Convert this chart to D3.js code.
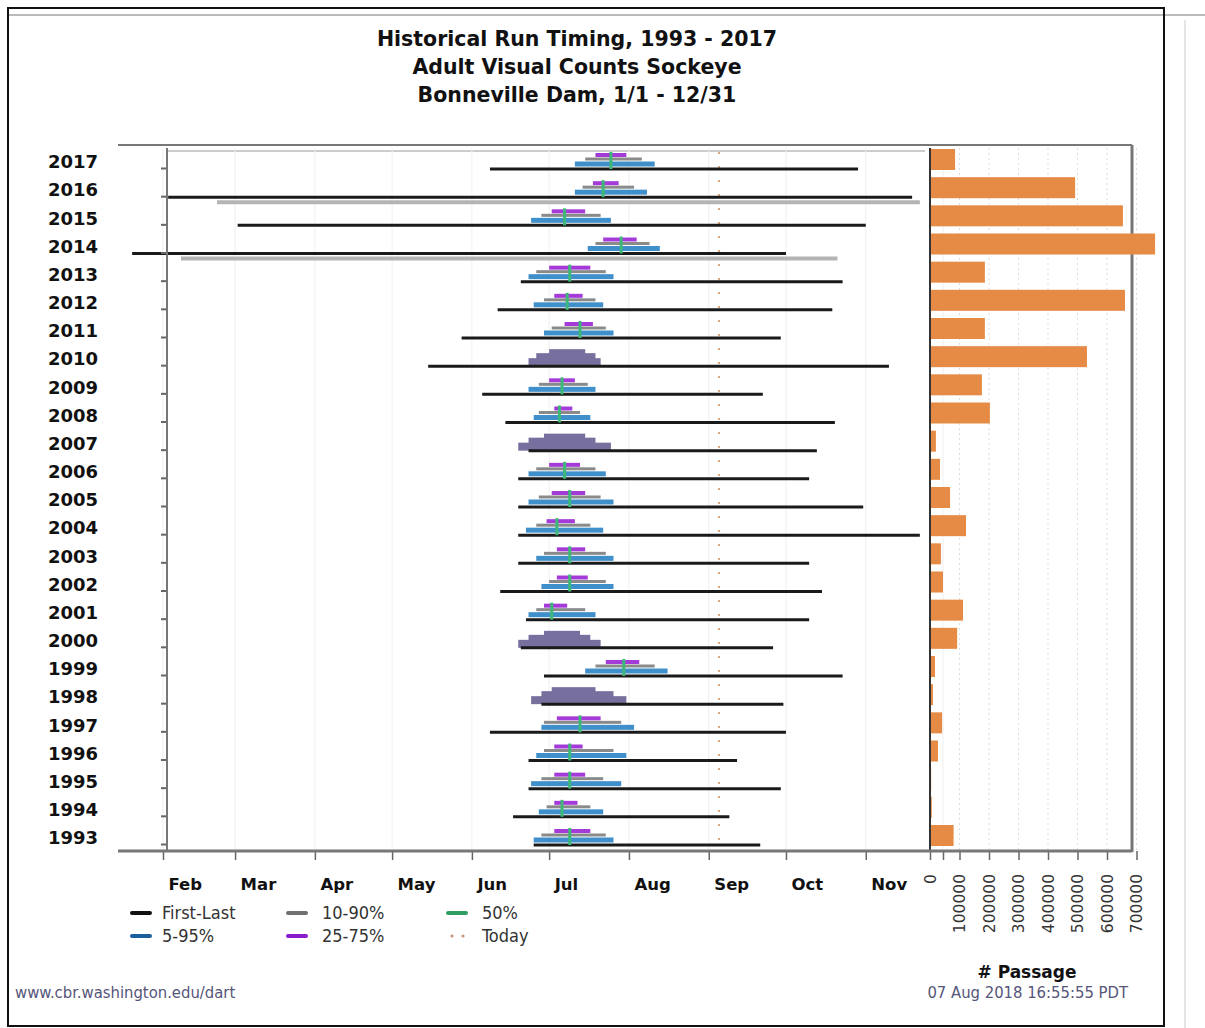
<!DOCTYPE html>
<html>
<head>
<meta charset="utf-8">
<script src="https://cdn.jsdelivr.net/npm/d3@7"></script>
<style>
  body { margin: 0; background: #fff; }
  svg { font-family: "DejaVu Sans", sans-serif; }
  .cond { font-family: "DejaVu Sans Condensed", "DejaVu Sans", sans-serif; font-stretch: condensed; }
</style>
</head>
<body>
<div id="chart"></div>
<script>
// values; days are day-of-year
const years    = [2017,2016,2015,2014,2013,2012,2011,2010,2009,2008,2007,2006,2005,2004,2003,2002,2001,2000,1999,1998,1997,1996,1995,1994,1993];
const firstDay = [159,34,61,20,171,162,148,135,156,165,174,170,170,170,170,163,173,171,180,179,159,174,174,168,176];
const p5       = [192,192,175,197,174,176,180,174,174,176,170,174,174,173,177,179,174,170,196,175,179,177,175,178,176];
const p10      = [196,195,179,200,177,180,183,177,178,178,174,177,178,177,180,182,177,174,200,179,180,180,179,181,179];
const p25      = [200,199,183,203,182,184,188,182,182,184,180,182,183,181,185,185,180,180,204,183,185,184,184,184,184];
const p50      = [206,203,188,210,190,189,194,188,187,186,188,188,190,185,190,190,183,186,211,192,194,190,190,187,190];
const p75      = [212,209,196,216,198,195,199,196,192,191,196,194,196,192,196,197,189,194,217,200,202,195,196,193,198];
const p90      = [218,215,202,221,204,200,204,200,197,194,200,200,202,198,204,204,196,198,223,207,210,207,203,198,204];
const p95      = [223,220,206,225,207,203,207,202,200,198,206,204,207,203,207,207,200,202,228,212,215,212,210,203,207];
const lastDay  = [302,323,305,274,296,292,272,314,265,293,286,283,304,326,283,288,283,269,296,273,274,255,272,252,264];
const passage  = [85000,492000,654000,763000,186000,661000,186000,532000,176000,203000,20000,34000,68000,122000,37000,44000,112000,92000,17000,10000,41000,27000,4000,6000,80000];
const todayDay = 248;

// rows drawn as merged (smeared) bars in the picture
const smearYears = [2010, 2007, 2000, 1998];
// light grey ranges seen under two rows
const shadowYears = [2016, 2014];
const shadowFrom  = [53, 39];
const shadowTo    = [326, 294];

const monthStarts = [32, 60, 91, 121, 152, 182, 213, 244, 274, 305, 335];
const monthNames  = ['Feb','Mar','Apr','May','Jun','Jul','Aug','Sep','Oct','Nov',''];
const passageTicks = [0,100000,200000,300000,400000,500000,600000,700000];

const rows = years.map((yr, i) => ({
  year: yr, first: firstDay[i], last: lastDay[i],
  p5: p5[i], p10: p10[i], p25: p25[i], p50: p50[i], p75: p75[i], p90: p90[i], p95: p95[i],
  passage: passage[i], smear: smearYears.includes(yr)
}));

const W = 1205, H = 1028;
const plotLeft = 167, plotTop = 148, plotBottom = 851;

const svg = d3.select('#chart').append('svg')
  .attr('width', W).attr('height', H);

// frames
svg.append('line').attr('x1', 8).attr('x2', 1205).attr('y1', 15).attr('y2', 15)
  .attr('stroke', '#bbb').attr('stroke-width', 2);
svg.append('rect').attr('x', 8).attr('y', 8).attr('width', 1156).attr('height', 1018)
  .attr('fill', 'none').attr('stroke', '#111').attr('stroke-width', 2);
svg.append('line').attr('x1', 1185).attr('x2', 1185).attr('y1', 20).attr('y2', 1028)
  .attr('stroke', '#e6e6e6').attr('stroke-width', 2);

// title
const title = ['Historical Run Timing, 1993 - 2017', 'Adult Visual Counts Sockeye', 'Bonneville Dam, 1/1 - 12/31'];
svg.append('g').selectAll('text').data(title).join('text')
  .attr('x', 577).attr('y', (d, i) => 46 + i * 28)
  .attr('text-anchor', 'middle')
  .attr('font-weight', 'bold').attr('font-size', 20.5).attr('fill', '#111')
  .text(d => d);

// scales
const x = d3.scaleLinear().domain([32, 335]).range([163, 943]);
const y = d3.scalePoint().domain(years).range([168, 844]);
const xp = d3.scaleLinear().domain([0, 700000]).range([930, 1136.5]);

// plot frame
svg.append('line').attr('x1', 118).attr('x2', 1132).attr('y1', 145).attr('y2', 145)
  .attr('stroke', '#777').attr('stroke-width', 2);
svg.append('line').attr('x1', plotLeft).attr('x2', 925).attr('y1', 151).attr('y2', 151)
  .attr('stroke', '#ccc').attr('stroke-width', 2);
svg.append('line').attr('x1', 1132).attr('x2', 1132).attr('y1', 145).attr('y2', plotBottom + 1)
  .attr('stroke', '#777').attr('stroke-width', 3);

// month grid
svg.append('g').selectAll('line').data(monthStarts).join('line')
  .attr('x1', d => x(d)).attr('x2', d => x(d))
  .attr('y1', plotTop).attr('y2', plotBottom)
  .attr('stroke', '#efefef').attr('stroke-width', 1);

// passage grid
svg.append('g').selectAll('line').data(passageTicks.slice(1)).join('line')
  .attr('x1', d => xp(d)).attr('x2', d => xp(d))
  .attr('y1', plotTop).attr('y2', plotBottom)
  .attr('stroke', '#ddd').attr('stroke-dasharray', '2,3');

// today line
svg.append('line')
  .attr('x1', x(todayDay)).attr('x2', x(todayDay))
  .attr('y1', plotTop + 4).attr('y2', plotBottom)
  .attr('stroke', '#d9a47a').attr('stroke-width', 2).attr('stroke-dasharray', '2,12');

// shadow ranges
svg.append('g').selectAll('line').data(shadowYears).join('line')
  .attr('x1', (d, i) => x(shadowFrom[i])).attr('x2', (d, i) => x(shadowTo[i]))
  .attr('y1', d => y(d) + 6).attr('y2', d => y(d) + 6)
  .attr('stroke', '#b4b4b4').attr('stroke-width', 4);

// run timing rows
const g = svg.append('g');
const band = (sel, lo, hi, dy, h, color) => sel.append('rect')
  .attr('x', d => x(d[lo])).attr('width', d => x(d[hi]) - x(d[lo]))
  .attr('y', d => y(d.year) + dy).attr('height', h)
  .attr('fill', d => d.smear ? '#77709e' : color);

const rowG = g.selectAll('.row').data(rows).join('g').attr('class', 'row');
band(rowG.filter(d => d.smear), 'p5', 'p95', -7, 8, '#77709e');
band(rowG.filter(d => d.smear), 'p10', 'p90', -12, 7, '#77709e');
band(rowG.filter(d => d.smear), 'p25', 'p75', -16, 7, '#77709e');
const plain = rowG.filter(d => !d.smear);
band(plain, 'p5', 'p95', -6.5, 5, '#3f8fca');
band(plain, 'p10', 'p90', -10.5, 3, '#8a8a8a');
band(plain, 'p25', 'p75', -15, 4, '#a43ad8');
rowG.append('line')
  .attr('x1', d => x(d.first)).attr('x2', d => x(d.last))
  .attr('y1', d => y(d.year) + 1).attr('y2', d => y(d.year) + 1)
  .attr('stroke', '#1a1a1a').attr('stroke-width', 3);
plain.append('line')
  .attr('x1', d => x(d.p50)).attr('x2', d => x(d.p50))
  .attr('y1', d => y(d.year) - 16).attr('y2', d => y(d.year) + 1)
  .attr('stroke', '#3cb878').attr('stroke-width', 3);

// passage bars
svg.append('g').selectAll('rect').data(rows).join('rect')
  .attr('x', xp(0)).attr('width', d => xp(d.passage) - xp(0))
  .attr('y', d => y(d.year) - 19).attr('height', 21)
  .attr('fill', '#e68b45');
svg.append('line').attr('x1', xp(0)).attr('x2', xp(0)).attr('y1', plotTop).attr('y2', plotBottom)
  .attr('stroke', '#333').attr('stroke-width', 2);

// y axis
const yAxis = svg.append('g').attr('transform', `translate(${plotLeft},0)`)
  .call(d3.axisLeft(y).tickSize(6).tickPadding(63));
yAxis.select('.domain').remove();
yAxis.selectAll('line').attr('stroke', '#666').attr('stroke-width', 2);
yAxis.selectAll('text')
  .attr('font-family', '"DejaVu Sans", sans-serif')
  .attr('font-size', 18).attr('font-weight', 'bold').attr('fill', '#111')
  .attr('y', -6);
svg.append('line').attr('x1', plotLeft).attr('x2', plotLeft).attr('y1', plotTop).attr('y2', plotBottom)
  .attr('stroke', '#777').attr('stroke-width', 2);

// x axis (months)
const xAxis = svg.append('g').attr('transform', `translate(0,${plotBottom})`)
  .call(d3.axisBottom(x).tickValues(monthStarts).tickSize(9).tickPadding(18)
    .tickFormat((d, i) => monthNames[i]));
xAxis.select('.domain').remove();
xAxis.selectAll('line').attr('stroke', '#666').attr('stroke-width', 1.5);
xAxis.selectAll('text')
  .attr('font-family', '"DejaVu Sans", sans-serif')
  .attr('text-anchor', 'start').attr('dx', 5)
  .attr('font-size', 16.5).attr('font-weight', 'bold').attr('fill', '#111');

// passage axis
const pAxis = svg.append('g').attr('transform', `translate(0,${plotBottom})`)
  .call(d3.axisBottom(xp).tickValues(passageTicks).tickSize(9).tickFormat(d3.format('d')));
pAxis.select('.domain').remove();
pAxis.selectAll('line').attr('stroke', '#666').attr('stroke-width', 1.5);
pAxis.selectAll('text')
  .attr('font-family', '"DejaVu Sans", sans-serif')
  .attr('font-size', 15.5).attr('fill', '#333')
  .attr('transform', 'rotate(-90)')
  .attr('text-anchor', 'end').attr('x', -23).attr('y', 0).attr('dy', '0.35em');

svg.append('line').attr('x1', 118).attr('x2', 1132).attr('y1', plotBottom).attr('y2', plotBottom)
  .attr('stroke', '#777').attr('stroke-width', 3);

svg.append('text').attr('x', 1027).attr('y', 978).attr('text-anchor', 'middle')
  .attr('font-weight', 'bold').attr('font-size', 17).attr('fill', '#111')
  .text('# Passage');

// legend
const legend = [
  { label: 'First-Last', color: '#111', col: 0, row: 0 },
  { label: '10-90%', color: '#707070', col: 1, row: 0 },
  { label: '50%', color: '#2e9e62', col: 2, row: 0 },
  { label: '5-95%', color: '#1d5f9e', col: 0, row: 1 },
  { label: '25-75%', color: '#8a1bcc', col: 1, row: 1 },
  { label: 'Today', color: '#c8957a', col: 2, row: 1, dots: true }
];
const colX = [132, 288, 448];
const lg = svg.append('g').selectAll('g').data(legend).join('g')
  .attr('transform', d => `translate(${colX[d.col]},${913 + d.row * 23})`);
lg.filter(d => !d.dots).append('line')
  .attr('x1', 0).attr('x2', 18).attr('y1', 0).attr('y2', 0)
  .attr('stroke', d => d.color).attr('stroke-width', 4).attr('stroke-linecap', 'round');
lg.filter(d => d.dots).selectAll('circle').data([4, 15]).join('circle')
  .attr('cx', d => d).attr('cy', 0).attr('r', 1.6).attr('fill', '#c8957a');
lg.append('text').attr('class', 'cond')
  .attr('x', d => d.col === 0 ? 30 : 34).attr('y', 6)
  .attr('font-size', 18).attr('fill', '#333')
  .text(d => d.label);

// footer
svg.append('text').attr('class', 'cond').attr('x', 15).attr('y', 998)
  .attr('font-size', 16.5).attr('fill', '#55557a').text('www.cbr.washington.edu/dart');
svg.append('text').attr('class', 'cond').attr('x', 1128).attr('y', 998).attr('text-anchor', 'end')
  .attr('font-size', 16.5).attr('fill', '#55557a').text('07 Aug 2018 16:55:55 PDT');
</script>
</body>
</html>
